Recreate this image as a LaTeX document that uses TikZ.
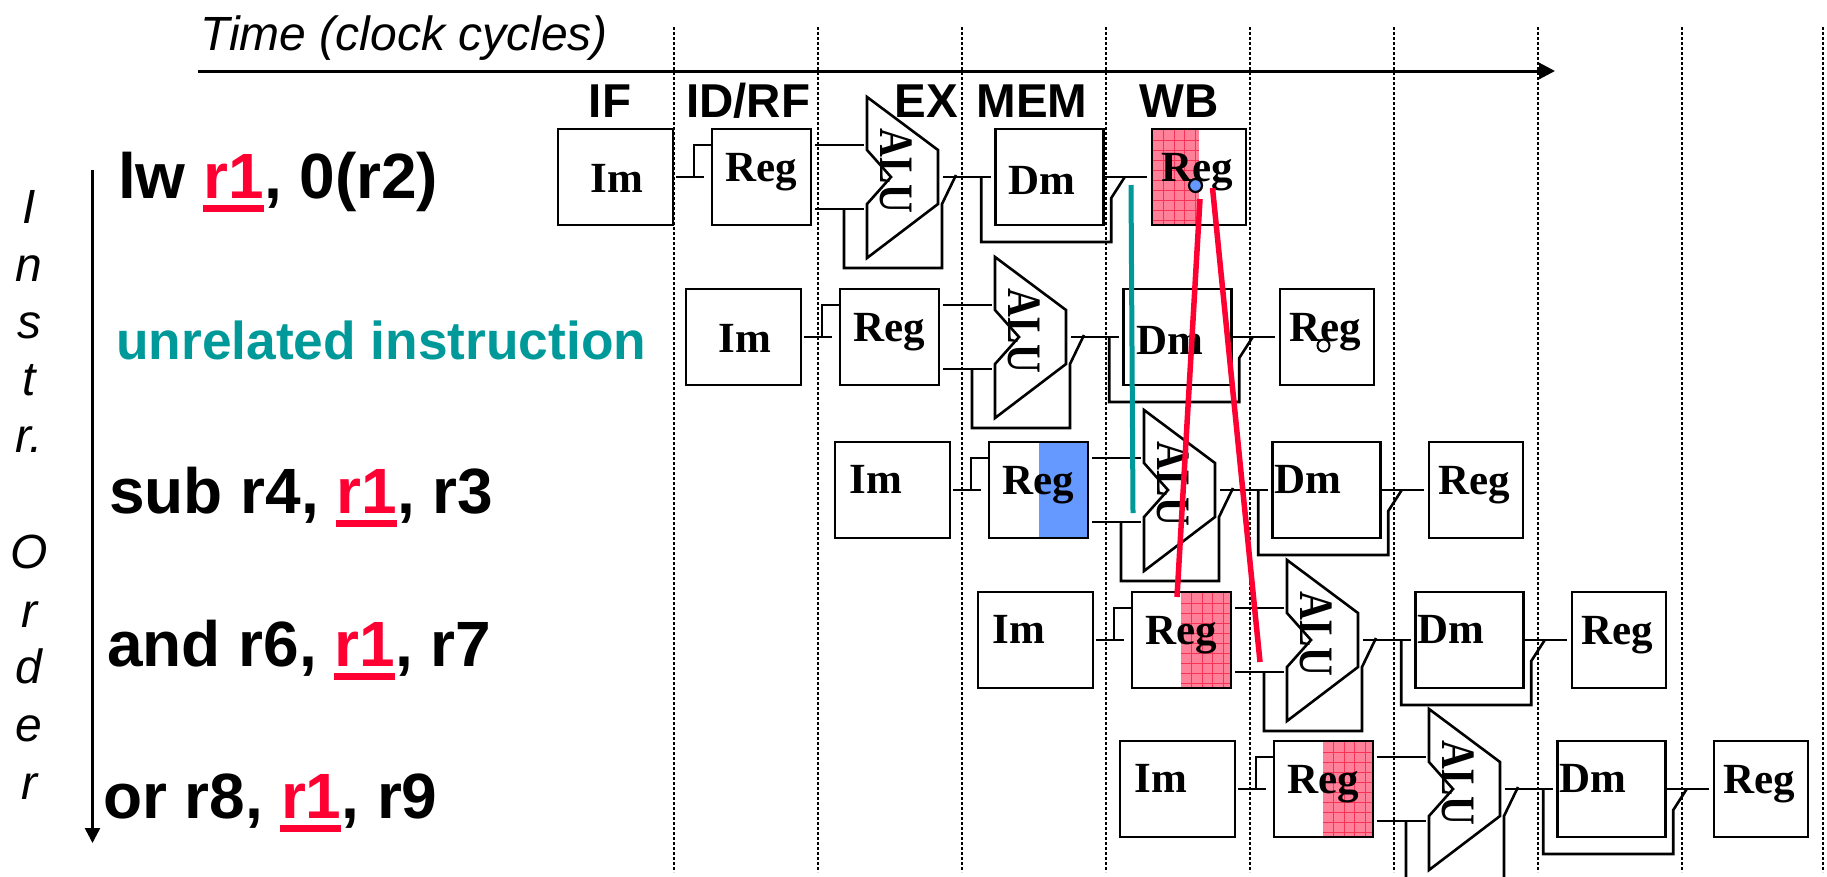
\documentclass[tikz,border=0pt]{standalone}
\usepackage{fontspec}
\setmainfont{Liberation Sans}
\newfontfamily\timesf{Liberation Serif}
\usetikzlibrary{arrows.meta}
\definecolor{hazred}{HTML}{FF0033}
\definecolor{teal2}{HTML}{009999}
\definecolor{blue2}{HTML}{6699FF}
\definecolor{pink2}{HTML}{FF8099}
\definecolor{gridred}{HTML}{F83355}
\newcommand\rone[1]{\textcolor{hazred}{\rlap{\kern#1\rule[-14pt]{61pt}{7pt}}r1}}
\newcommand\hatchfill[4]{%
  \begin{scope}
    \clip (#1,#2) rectangle (#3,#4);
    \fill[pink2] (#1,#2) rectangle (#3,#4);
    \foreach \k in {1,...,9}{
      \draw[gridred,line width=0.6pt] (#1+10.5*\k,#2) -- (#1+10.5*\k,#4);
      \draw[gridred,line width=0.6pt] (#1,#2+10*\k) -- (#3,#2+10*\k);
    }
  \end{scope}}
\tikzset{
  x=1pt,y=-1pt,
  stagebox/.style={draw,line width=2.6pt,minimum height=96pt,inner sep=0pt,outer sep=0pt,line join=miter},
  imbox/.style={stagebox,minimum width=115pt},
  regbox/.style={stagebox,minimum width=99pt},
  dmbox/.style={stagebox,minimum width=108pt},
  wbbox/.style={stagebox,minimum width=94pt},
  wire/.style={line width=2.6pt,line join=miter},
  alubody/.style={draw,line width=2.6pt,line join=miter},
  cell/.style={anchor=base,inner sep=0pt,font=\timesf\bfseries\fontsize{43}{43}\selectfont},
  alutext/.style={rotate=-90,inner sep=0pt,font=\timesf\bfseries\fontsize{40}{40}\selectfont},
  instr/.style={anchor=base west,inner sep=0pt,font=\bfseries\fontsize{64}{64}\selectfont},
  head/.style={anchor=base,inner sep=0pt,font=\bfseries\fontsize{47.5}{47.5}\selectfont},
  vert/.style={anchor=base,inner sep=0pt,font=\itshape\fontsize{48}{48}\selectfont},
  cycle line/.style={line width=2.5pt,dash pattern=on 2.5pt off 2.5pt},
  hazard/.style={line width=5.5pt,hazred},
  okline/.style={line width=5pt,teal2},
}
\begin{document}
\begin{tikzpicture}
\useasboundingbox (0,0) rectangle (1827,876);
\clip (0,0) rectangle (1827,876);
\fill[white] (0,0) rectangle (1827,876);

% cycle boundaries
\foreach \c in {674,818,962,1106,1250,1394,1538,1682,1823}
  \draw[cycle line] (\c,27) -- (\c,872);

% shaded register halves
\hatchfill{1153}{130}{1199}{224}
\fill[blue2] (1038.5,443) rectangle (1088,537);
\hatchfill{1181}{593}{1230}{687}
\hatchfill{1323}{742}{1372}{836}

% titles
\node[anchor=base west,inner sep=0pt,font=\itshape\fontsize{48}{48}\selectfont] (title) at (200,50) {Time (clock cycles)};
\coordinate (timeA) at (198,71);
\coordinate (timeB) at (1555,71);
\draw[line width=3pt,-{Triangle[length=16pt,width=16pt]}] (timeA) -- (timeB);
\node[head] (hIF) at (610,117) {IF};
\node[head] (hID) at (748,117) {ID/RF};
\node[head] (hEX) at (926,117) {EX};
\node[head] (hMEM) at (1032,117) {MEM};
\node[head] (hWB) at (1179,117) {WB};

% instruction order
\coordinate (ordA) at (92.5,170);
\coordinate (ordB) at (92.5,843);
\draw[line width=2.5pt,-{Triangle[length=15pt,width=15pt]}] (ordA) -- (ordB);
\foreach \n/\t/\yy in {a/I/223,b/n/281,c/s/338,d/t/395,e/r./452,f/O/568,g/r/627,h/d/683,i/e/741,j/r/799}
  \node[vert] (v\n) at (29,\yy) {\t};

\node[instr] (i1) at (118,198) {lw \rone{-1pt}, 0(r2)};
\node[instr,teal2,font=\bfseries\fontsize{53.3}{53.3}\selectfont] (i2) at (116,359) {unrelated instruction};
\node[instr] (i3) at (109,513) {sub r4, \rone{-1pt}, r3};
\node[instr] (i4) at (107,666) {and r6, \rone{-1pt}, r7};
\node[instr] (i5) at (103,818) {or r8, \rone{-1pt}, r9};

% pipeline rows
\foreach \rw/\ox/\oy/\ix/\iy/\mx/\my in {1/0/0/59/63/46/65,2/128/160/59/63/46/65,3/277/313/41/51/35/51,4/420/463/41/51/35/51,5/562/612/41/51/35/51}{
\begin{scope}[shift={(\ox,\oy)}]
  \node[imbox] (im\rw) at (615.5,177) {};
  \node[regbox] (rd\rw) at (761.5,177) {};
  \node[dmbox] (dm\rw) at (1049.25,177) {};
  \node[wbbox] (wb\rw) at (1199,177) {};
  \node[cell] (imt\rw) at (558+\ix,129+\iy) {Im};
  \node[cell] (rdt\rw) at (761,181) {Reg};
  \node[cell] (dmt\rw) at (995.5+\mx,129+\my) {Dm};
  \node[cell] (wbt\rw) at (1197,181) {Reg};
  \path[alubody,fill=none] (867,97) -- (938,150) -- (938,204) -- (867,258) -- (867,204) -- (891,177) -- (867,150) -- cycle;
  \node[alutext] (alu\rw) at (896,171) {\scalebox{1}[1.2]{ALU}};
  % IF to ID
  \draw[wire] ([xshift=3pt]im\rw.east) -- ([xshift=31pt]im\rw.east);
  \draw[wire] ([xshift=21pt]im\rw.east) |- ([yshift=32pt]rd\rw.west);
  % ID to EX
  \draw[wire] ([xshift=4pt,yshift=32pt]rd\rw.east) -- ++(49,0);
  \draw[wire] ([xshift=4pt,yshift=-32pt]rd\rw.east) -- ++(49,0);
  \draw[wire] ([xshift=33pt,yshift=-32pt]rd\rw.east) -- ++(0,59) -- ++(98,0) -- ++(0,-64) -- ++(14,-29);
  % EX to MEM
  \draw[wire] ([xshift=-52pt]dm\rw.west) -- ([xshift=-4pt]dm\rw.west);
  \draw[wire] ([xshift=-14pt]dm\rw.west) -- ++(0,65) -- ++(130,0) -- ++(0,-44) -- ++(13.5,-21);
  % MEM to WB
  \draw[wire] ([xshift=2pt]dm\rw.east) -- ([xshift=-5pt]wb\rw.west);
\end{scope}
}

% hazard markers
\draw[line width=2.2pt,fill=blue2] (1195.5,185.5) circle (6.5);
\draw[line width=2pt,fill=white] (1323.5,345.5) circle (6);
\coordinate (tA) at (1131,185);
\coordinate (tB) at (1133,513);
\draw[okline] (tA) -- (tB);
\coordinate (rA) at (1200,199);
\coordinate (rB) at (1177,597);
\draw[hazard] (rA) -- (rB);
\coordinate (sA) at (1212.5,188);
\coordinate (sB) at (1260,662);
\draw[hazard] (sA) -- (sB);
\end{tikzpicture}
\end{document}
